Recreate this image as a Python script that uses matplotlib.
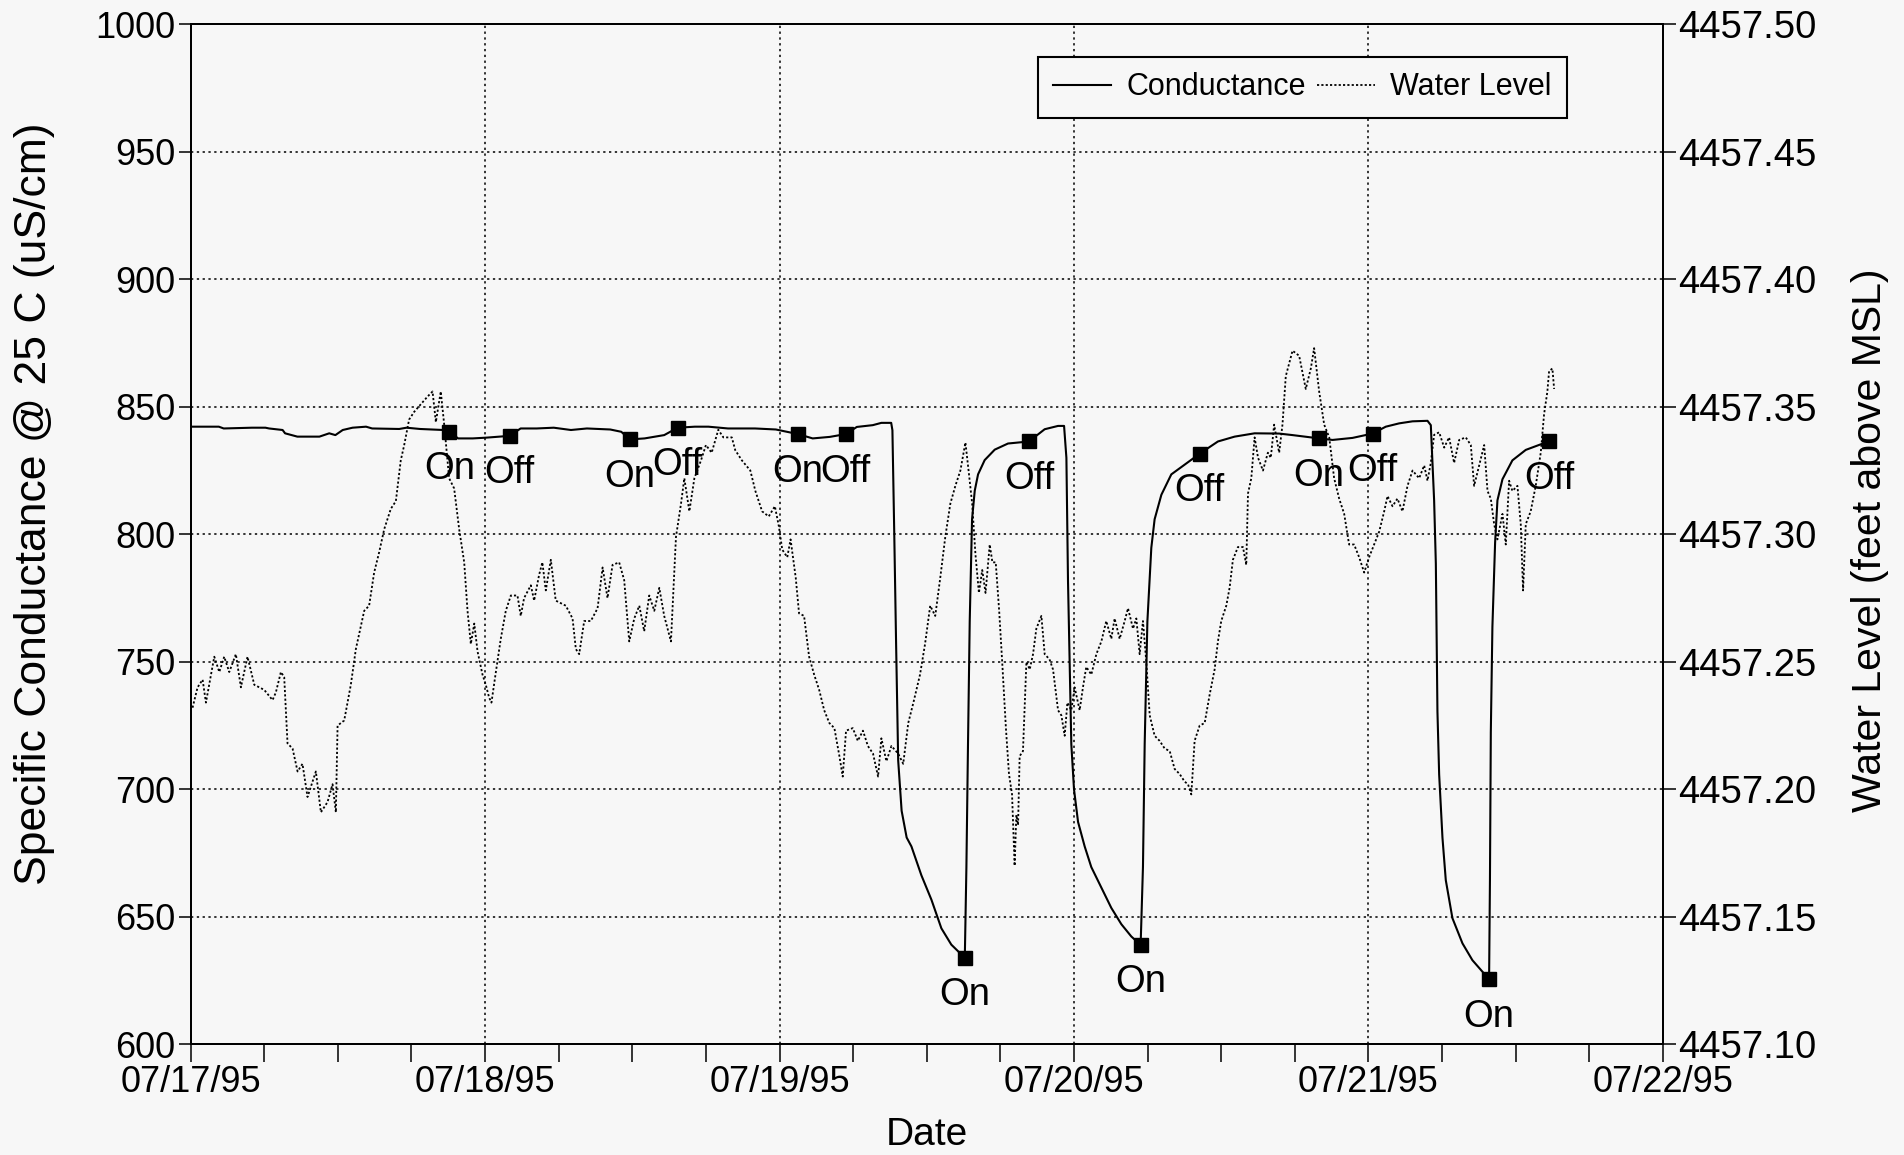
import datetime as dt

import numpy as np
import matplotlib
matplotlib.use("Agg")
import matplotlib.pyplot as plt
import matplotlib.dates as mdates
from matplotlib.lines import Line2D

START = dt.datetime(1995, 7, 17)

# Specific conductance @ 25 C (uS/cm), hours since 07/17/95 00:00
cond_hours = [
    0.0, 2.3, 2.7, 5.0, 6.1, 6.4, 7.5, 7.7, 8.7, 10.5, 11.3, 11.8, 12.4, 13.2,
    14.3, 14.8, 17.0, 17.6, 18.7, 20.6, 21.1, 21.8, 23.0, 24.1, 25.2, 26.0,
    26.9, 28.2, 29.6, 31.0, 32.3, 34.2, 35.1, 35.8, 37.0, 38.6, 39.7, 41.1,
    42.2, 43.8, 46.0, 47.7, 49.5, 50.7, 52.1, 53.4, 54.3, 55.6, 56.3, 57.1,
    57.2, 57.35, 57.5, 57.67, 57.95, 58.36, 58.75, 59.56, 60.38, 61.19, 62.0,
    62.68, 63.1, 63.23, 63.36, 63.5, 63.69, 63.91, 64.18, 64.72, 65.54, 66.62,
    68.33, 69.61, 70.7, 71.19, 71.38, 71.51, 71.78, 72.0, 72.33, 72.87, 73.41,
    74.23, 75.04, 75.86, 76.67, 77.43, 77.62, 77.76, 77.98, 78.3, 78.57, 79.12,
    79.93, 82.24, 83.73, 85.09, 86.72, 88.72, 89.81, 91.98, 93.07, 94.7, 96.33,
    97.41, 98.5, 99.59, 100.81, 101.08, 101.35, 101.49, 101.62, 101.76, 102.03,
    102.3, 102.84, 103.66, 104.47, 105.83, 105.9, 105.97, 106.1, 106.32,
    106.51, 106.92, 107.73, 108.82, 110.72,
]
cond_values = [
    842.2, 842.2, 841.5, 841.8, 841.8, 841.5, 840.9, 839.6, 838.3, 838.3, 839.6,
    838.9, 840.9, 841.8, 842.2, 841.5, 841.3, 841.8, 841.3, 840.9, 840.2, 837.6,
    837.6, 837.9, 838.3, 838.6, 841.5, 841.5, 841.8, 840.9, 841.5, 841.1, 840.2,
    837.2, 837.6, 838.9, 841.8, 842.2, 842.2, 841.5, 841.5, 841.1, 839.3, 837.6,
    838.2, 839.3, 842.1, 842.8, 843.7, 843.7, 840.8, 800.3, 757.1, 711.3, 691.6,
    681.1, 677.6, 666.3, 656.7, 645.5, 639.1, 635.9, 634.0, 669.5, 717.7, 765.8,
    805.9, 817.1, 823.5, 829.1, 833.2, 835.6, 836.4, 841.2, 842.5, 842.5, 830.0,
    781.8, 717.7, 700.0, 687.2, 677.6, 669.5, 661.5, 653.5, 647.1, 642.3, 639.0,
    669.6, 717.7, 765.8, 794.7, 805.9, 815.5, 823.5, 831.6, 836.4, 838.3, 839.6,
    839.5, 838.9, 837.6, 837.0, 837.8, 839.5, 842.2, 843.5, 844.3, 844.5, 842.8,
    813.3, 788.5, 730.6, 705.8, 681.0, 664.4, 649.5, 639.6, 633.0, 625.5, 664.4,
    722.3, 763.7, 796.7, 813.3, 821.6, 829.0, 833.1, 836.5,
]

# Water level (feet above MSL), hours since 07/17/95 00:00
level_hours = [
    0.16, 0.57, 0.98, 1.25, 1.93, 2.34, 2.74, 3.15, 3.69, 4.10, 4.64, 5.19, 6.00,
    6.68, 6.95, 7.36, 7.63, 7.90, 8.31, 8.72, 9.12, 9.53, 9.94, 10.21, 10.62,
    11.16, 11.57, 11.84, 11.98, 12.52, 13.06, 13.47, 14.15, 14.55, 14.96, 15.37,
    15.78, 16.32, 16.73, 17.13, 17.41, 17.81, 18.22, 18.76, 19.31, 19.72, 19.99,
    20.39, 20.67, 21.07, 21.48, 21.89, 22.30, 22.57, 22.84, 23.12, 23.39, 23.79,
    24.06, 24.33, 24.52, 24.88, 25.28, 25.69, 26.10, 26.64, 26.91, 27.18, 27.73,
    28.00, 28.40, 28.67, 28.95, 29.36, 29.76, 30.58, 31.13, 31.40, 31.67, 32.08,
    32.62, 33.17, 33.58, 33.98, 34.39, 34.93, 35.34, 35.75, 36.16, 36.57, 36.97,
    37.38, 37.79, 38.20, 38.60, 39.15, 39.29, 39.56, 39.97, 40.24, 40.65, 41.06,
    41.60, 42.00, 42.47, 43.01, 43.42, 44.11, 44.39, 44.93, 45.62, 46.03, 46.58,
    47.12, 47.62, 47.95, 48.22, 48.63, 48.90, 49.32, 49.59, 50.00, 50.41, 50.82,
    51.23, 51.64, 52.06, 52.47, 52.88, 53.15, 53.42, 53.97, 54.38, 54.80, 55.20,
    55.62, 56.03, 56.30, 56.71, 57.12, 57.67, 58.08, 58.49, 58.91, 59.45, 59.86,
    60.28, 60.69, 61.10, 61.51, 61.92, 62.33, 62.74, 63.15, 63.43, 63.70, 63.97,
    64.25, 64.52, 64.79, 65.13, 65.35, 65.62, 65.90, 66.17, 66.45, 66.70, 66.95,
    67.16, 67.30, 67.44, 67.57, 67.84, 68.12, 68.39, 68.66, 68.93, 69.34, 69.61,
    70.00, 70.29, 70.70, 70.97, 71.24, 71.46, 71.78, 72.05, 72.46, 72.73, 73.00,
    73.41, 73.82, 74.23, 74.63, 75.04, 75.31, 75.72, 76.13, 76.40, 76.81, 77.08,
    77.35, 77.62, 77.89, 78.17, 78.57, 78.98, 79.39, 79.80, 80.20, 80.61, 81.02,
    81.29, 81.56, 81.83, 82.24, 82.65, 83.05, 83.46, 83.73, 84.00, 84.41, 84.68,
    84.95, 85.36, 85.77, 86.04, 86.18, 86.45, 86.72, 87.00, 87.40, 87.80, 88.04,
    88.31, 88.72, 88.99, 89.26, 89.81, 90.35, 90.89, 91.30, 91.57, 91.98, 92.39,
    92.80, 93.20, 93.61, 94.02, 94.42, 94.83, 95.24, 95.65, 96.05, 96.46, 96.87,
    97.28, 97.55, 97.96, 98.36, 98.77, 99.18, 99.59, 100.13, 100.54, 100.81,
    101.08, 101.35, 101.76, 102.17, 102.57, 102.98, 103.39, 103.93, 104.34,
    104.61, 105.02, 105.43, 105.70, 105.97, 106.24, 106.51, 106.92, 107.19,
    107.46, 107.73, 108.14, 108.41, 108.60, 108.82, 109.22, 109.63, 110.04,
    110.31, 110.58, 110.72, 110.99, 111.13,
]
level_feet = [
    4457.232, 4457.240, 4457.243, 4457.234, 4457.252, 4457.246, 4457.252,
    4457.246, 4457.253, 4457.240, 4457.252, 4457.241, 4457.239, 4457.235,
    4457.238, 4457.246, 4457.244, 4457.218, 4457.216, 4457.207, 4457.210,
    4457.197, 4457.203, 4457.207, 4457.191, 4457.195, 4457.202, 4457.191,
    4457.225, 4457.227, 4457.241, 4457.255, 4457.270, 4457.272, 4457.285,
    4457.293, 4457.302, 4457.310, 4457.313, 4457.329, 4457.335, 4457.345,
    4457.348, 4457.351, 4457.354, 4457.356, 4457.344, 4457.356, 4457.343,
    4457.322, 4457.318, 4457.302, 4457.289, 4457.270, 4457.257, 4457.265,
    4457.254, 4457.245, 4457.241, 4457.236, 4457.234, 4457.246, 4457.259,
    4457.270, 4457.276, 4457.276, 4457.268, 4457.275, 4457.280, 4457.274,
    4457.284, 4457.289, 4457.278, 4457.290, 4457.274, 4457.272, 4457.267,
    4457.255, 4457.253, 4457.266, 4457.266, 4457.271, 4457.287, 4457.275,
    4457.288, 4457.289, 4457.282, 4457.258, 4457.267, 4457.272, 4457.262,
    4457.276, 4457.270, 4457.279, 4457.268, 4457.258, 4457.272, 4457.299,
    4457.312, 4457.322, 4457.309, 4457.322, 4457.329, 4457.335, 4457.332,
    4457.341, 4457.338, 4457.338, 4457.333, 4457.329, 4457.325, 4457.317,
    4457.309, 4457.307, 4457.311, 4457.303, 4457.294, 4457.291, 4457.298,
    4457.283, 4457.269, 4457.268, 4457.252, 4457.245, 4457.239, 4457.231,
    4457.226, 4457.224, 4457.213, 4457.205, 4457.223, 4457.224, 4457.219,
    4457.223, 4457.217, 4457.214, 4457.205, 4457.220, 4457.211, 4457.217,
    4457.214, 4457.210, 4457.226, 4457.234, 4457.245, 4457.257, 4457.272,
    4457.268, 4457.283, 4457.299, 4457.312, 4457.319, 4457.325, 4457.336,
    4457.324, 4457.312, 4457.292, 4457.277, 4457.286, 4457.277, 4457.296,
    4457.289, 4457.289, 4457.270, 4457.248, 4457.224, 4457.206, 4457.198,
    4457.170, 4457.190, 4457.186, 4457.213, 4457.215, 4457.250, 4457.247,
    4457.253, 4457.263, 4457.268, 4457.253, 4457.251, 4457.247, 4457.231,
    4457.229, 4457.221, 4457.234, 4457.231, 4457.240, 4457.231, 4457.240,
    4457.248, 4457.245, 4457.253, 4457.258, 4457.266, 4457.259, 4457.267,
    4457.259, 4457.266, 4457.271, 4457.263, 4457.267, 4457.253, 4457.266,
    4457.250, 4457.229, 4457.221, 4457.219, 4457.216, 4457.215, 4457.208,
    4457.206, 4457.203, 4457.202, 4457.198, 4457.219, 4457.225, 4457.226,
    4457.237, 4457.247, 4457.258, 4457.266, 4457.272, 4457.279, 4457.290,
    4457.295, 4457.295, 4457.288, 4457.316, 4457.322, 4457.338, 4457.330,
    4457.325, 4457.332, 4457.330, 4457.343, 4457.332, 4457.343, 4457.362,
    4457.372, 4457.370, 4457.357, 4457.365, 4457.373, 4457.356, 4457.343,
    4457.338, 4457.322, 4457.314, 4457.308, 4457.296, 4457.296, 4457.291,
    4457.285, 4457.291, 4457.296, 4457.301, 4457.309, 4457.315, 4457.311,
    4457.314, 4457.309, 4457.319, 4457.325, 4457.322, 4457.327, 4457.321,
    4457.328, 4457.339, 4457.340, 4457.334, 4457.338, 4457.328, 4457.337,
    4457.338, 4457.335, 4457.319, 4457.327, 4457.335, 4457.317, 4457.314,
    4457.304, 4457.298, 4457.308, 4457.296, 4457.321, 4457.317, 4457.319,
    4457.304, 4457.278, 4457.304, 4457.309, 4457.319, 4457.332, 4457.347,
    4457.356, 4457.364, 4457.365, 4457.357,
]

# Pump switching events along the conductance record
event_hours = [21.1, 26.0, 35.8, 39.7, 49.5, 53.4, 63.1, 68.33, 77.43,
               82.24, 91.98, 96.33, 105.83, 110.72]
event_labels = ["On", "Off", "On", "Off", "On", "Off", "On", "Off", "On",
                "Off", "On", "Off", "On", "Off"]

BG = "#f7f7f7"
plt.rcParams["font.family"] = ["Liberation Sans", "DejaVu Sans"]


def to_dates(hours):
    return [START + dt.timedelta(hours=float(h)) for h in hours]


fig = plt.figure(figsize=(19.04, 11.55), dpi=100, facecolor=BG)
ax = fig.add_axes([0.1001, 0.0958, 0.7733, 0.8832])
ax.set_facecolor(BG)
ax2 = ax.twinx()

level_style = dict(color="black", lw=1.3, ls=(0, (1.2, 1.2)))
ax.plot(to_dates(cond_hours), cond_values, color="black", lw=1.5, zorder=3)
ax2.plot(to_dates(level_hours), level_feet, zorder=3, **level_style)

# squares on the conductance trace where the pump was switched
event_values = np.interp(event_hours, cond_hours, cond_values)
for h, v, lab in zip(event_hours, event_values, event_labels):
    d = START + dt.timedelta(hours=h)
    ax.plot([d], [v], marker="s", ms=10.5, color="black", zorder=5)
    ax.annotate(lab, (d, v), xytext=(0, -14), textcoords="offset points",
                ha="center", va="top", fontsize=27.5, zorder=6)

ax.set_xlim(START, START + dt.timedelta(days=5))
ax.set_ylim(600, 1000)
ax.set_yticks(np.arange(600, 1001, 50))
ax2.set_ylim(4457.10, 4457.50)
ax2.set_yticks(np.arange(4457.10, 4457.501, 0.05))
ax2.yaxis.set_major_formatter(plt.FormatStrFormatter("%.2f"))

ax.xaxis.set_major_locator(mdates.DayLocator())
ax.xaxis.set_minor_locator(mdates.HourLocator(byhour=[6, 12, 18]))
ax.xaxis.set_major_formatter(mdates.DateFormatter("%m/%d/%y"))

ax.grid(True, which="major", color="black", lw=1.1, ls=(0, (1.5, 2.3)))
ax.tick_params(axis="x", which="both", direction="out", length=13, width=1.1,
               pad=2, labelsize=26)
ax.tick_params(axis="y", direction="out", length=9, width=1.1, pad=2,
               labelsize=26)
ax2.tick_params(axis="y", direction="out", length=9, width=1.1, pad=2,
                labelsize=27.5)
for a in (ax, ax2):
    for s in a.spines.values():
        s.set_linewidth(1.4)

fig.text(0.0179, 0.5636, "Specific Conductance @ 25 C (uS/cm)", rotation=90,
         ha="center", va="center", fontsize=32)
fig.text(0.9822, 0.532, "Water Level (feet above MSL)", rotation=90,
         ha="center", va="center", fontsize=29.5)
fig.text(0.487, 0.0173, "Date", ha="center", va="center", fontsize=28)

handles = [Line2D([], [], color="black", lw=1.5), Line2D([], [], **level_style)]
leg = ax2.legend(handles, ["Conductance", "Water Level"], ncol=2,
                 loc="upper left", bbox_to_anchor=(0.5452, 0.9506),
                 bbox_transform=fig.transFigure, frameon=True, fancybox=False,
                 framealpha=1, facecolor=BG, edgecolor="black",
                 prop={"size": 22}, handlelength=1.9, handletextpad=0.5,
                 columnspacing=0.35, borderpad=0.5, borderaxespad=0)
leg.get_frame().set_linewidth(1.5)

fig.savefig("out.png", dpi=100, facecolor=BG)
